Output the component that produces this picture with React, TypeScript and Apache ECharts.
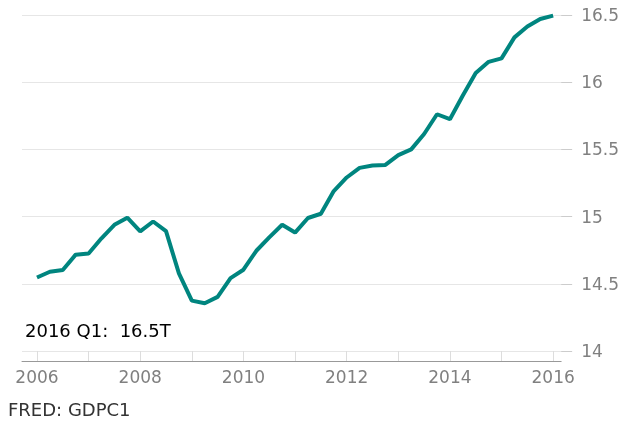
import React, { useEffect, useRef } from "react";
import * as echarts from "echarts";

const quarters: number[] = [];
for (let y = 2006; y <= 2016; y++) for (let q = 0; q < 4; q++) if (!(y === 2016 && q > 0)) quarters.push(y + q * 0.25);

const gdpBillions = [
  14546.7, 14589.6, 14602.6, 14716.9,
  14726.0, 14838.7, 14938.5, 14991.8,
  14889.5, 14963.4, 14891.6, 14577.0,
  14375.0, 14355.6, 14402.5, 14541.9,
  14604.8, 14745.9, 14845.5, 14939.0,
  14881.3, 14989.6, 15021.1, 15190.3,
  15291.0, 15362.4, 15380.8, 15384.3,
  15457.2, 15500.2, 15614.4, 15761.5,
  15724.9, 15901.5, 16068.8, 16151.4,
  16177.3, 16333.6, 16414.0, 16470.6,
  16495.4,
];

const xTickYears = [2006, 2007, 2008, 2009, 2010, 2011, 2012, 2013, 2014, 2015, 2016];
const xLabelYears = [2006, 2008, 2010, 2012, 2014, 2016];
const annotation = "2016 Q1:  16.5T";
const source = "FRED: GDPC1";

const FONT = "'DejaVu Sans', sans-serif";

export default function App() {
  const ref = useRef<HTMLDivElement>(null);
  useEffect(() => {
    if (!ref.current) return;
    const chart = echarts.init(ref.current, null, { renderer: "svg" });
    const data = quarters.map((q, i) => [q, gdpBillions[i] / 1000]);
    chart.setOption({
      animation: false,
      grid: { left: 22, right: 60, top: 15, bottom: 70 },
      xAxis: {
        type: "value",
        min: 2005.71,
        max: 2016.155,
        offset: 10,
        axisLine: { show: true, lineStyle: { color: "#999", width: 1 } },
        axisTick: {
          show: true,
          inside: true,
          length: 10,
          customValues: xTickYears,
          lineStyle: { color: "#ddd" },
        },
        axisLabel: {
          customValues: xLabelYears,
          formatter: (v: number) => String(v),
          color: "#808080",
          fontSize: 17,
          fontFamily: FONT,
          margin: 7,
        },
        splitLine: { show: false },
      },
      yAxis: {
        type: "value",
        position: "right",
        min: 14,
        max: 16.5,
        interval: 0.5,
        axisLine: { show: false },
        axisTick: { show: true, length: 11, lineStyle: { color: "#ccc" } },
        axisLabel: {
          color: "#808080",
          fontSize: 17,
          fontFamily: FONT,
          margin: 20,
          formatter: (v: number) => String(v),
        },
        splitLine: { show: true, lineStyle: { color: "#e6e6e6" } },
      },
      series: [
        {
          type: "line",
          data,
          showSymbol: false,
          lineStyle: { color: "#00857f", width: 4 },
          itemStyle: { color: "#00857f" },
        },
      ],
      graphic: [
        {
          type: "text",
          left: 25,
          top: 321,
          style: { text: annotation, fill: "#000", fontSize: 18, fontFamily: FONT },
        },
        {
          type: "text",
          left: 8,
          top: 400,
          style: { text: source, fill: "#333", fontSize: 18, fontFamily: FONT },
        },
      ],
    });
    return () => chart.dispose();
  }, []);
  return <div ref={ref} style={{ position: "fixed", left: 0, top: 0, width: 622, height: 421 }} />;
}
